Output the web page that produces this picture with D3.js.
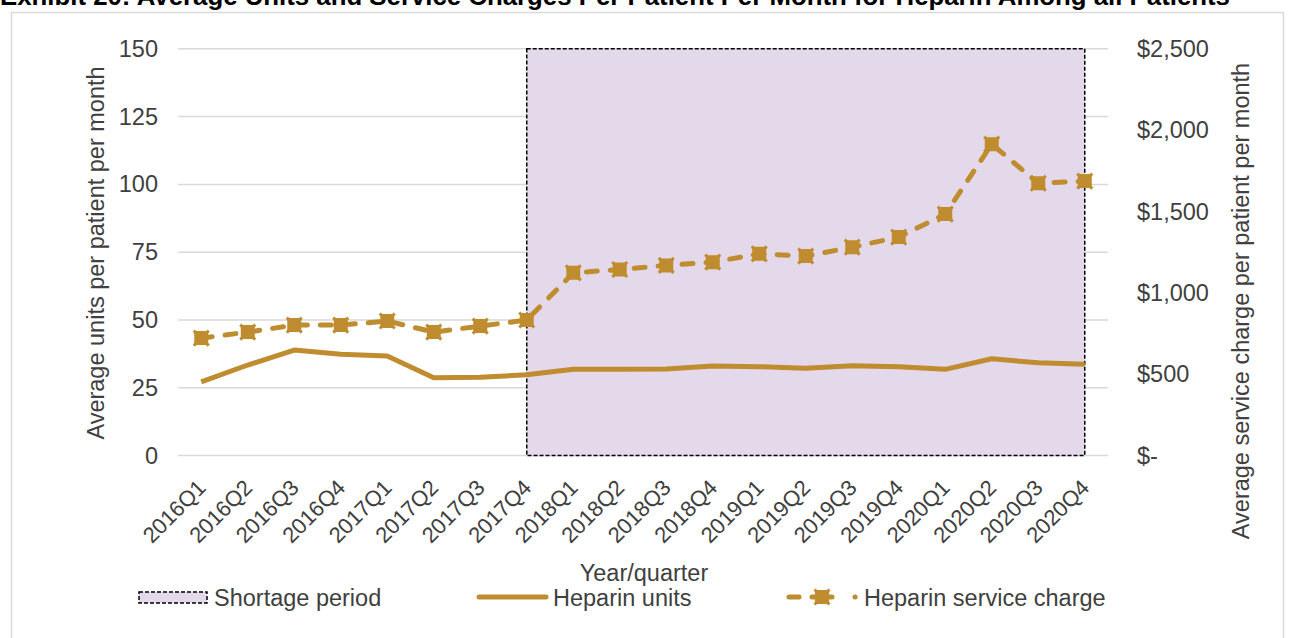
<!DOCTYPE html>
<html>
<head>
<meta charset="utf-8">
<script src="https://cdn.jsdelivr.net/npm/d3@7"></script>
<style>
  body { margin: 0; background: #fff; }
  text { font-family: "Liberation Sans", Arial, sans-serif; }
</style>
</head>
<body>
<div id="chart"></div>
<script>
// chart data
let quarters = ["2016Q1", "2016Q2", "2016Q3", "2016Q4", "2017Q1", "2017Q2", "2017Q3", "2017Q4",
  "2018Q1", "2018Q2", "2018Q3", "2018Q4", "2019Q1", "2019Q2", "2019Q3", "2019Q4",
  "2020Q1", "2020Q2", "2020Q3", "2020Q4"];
let heparinUnits = [27.2, 33.4, 38.9, 37.4, 36.7, 28.7, 28.9, 29.8, 31.8, 31.8,
  31.9, 33.0, 32.8, 32.2, 33.1, 32.8, 31.8, 35.7, 34.2, 33.7];
let serviceCharge = [722, 759, 802, 802, 827, 759, 796, 833, 1123, 1144,
  1169, 1189, 1240, 1226, 1281, 1343, 1484, 1914, 1674, 1687];
let shortage = ["2017Q4", "2020Q4"];
let leftTicks = [0, 25, 50, 75, 100, 125, 150];
let rightTicks = [0, 500, 1000, 1500, 2000, 2500];

let svgWidth = 1296;
let svgHeight = 638;
let gold = "#bf8c2f";
let textColor = "#404040";
let fontSize = "23.5px";

let svg = d3.select("#chart").append("svg")
  .attr("width", svgWidth)
  .attr("height", svgHeight);

// title, cut off at top in the original
svg.append("text")
  .attr("x", 0)
  .attr("y", 5)
  .attr("font-size", "25.8px")
  .attr("font-weight", "bold")
  .attr("fill", "#000")
  .text("Exhibit 20: Average Units and Service Charges Per Patient Per Month for Heparin Among all Patients");

// outer frame
svg.append("rect")
  .attr("x", 11.5).attr("y", 12.5)
  .attr("width", 1272).attr("height", 640)
  .attr("fill", "none")
  .attr("stroke", "#d9d9d9")
  .attr("stroke-width", 1.5);

let x = d3.scalePoint().domain(quarters).range([178, 1108]).padding(0.5);
let yLeft = d3.scaleLinear().domain([0, 150]).range([455.6, 48.8]);
let yRight = d3.scaleLinear().domain([0, 2500]).range([455.6, 48.8]);

// gridlines
svg.append("g")
  .selectAll("line")
  .data(leftTicks)
  .enter()
  .append("line")
  .attr("x1", 178).attr("x2", 1108)
  .attr("y1", d => yLeft(d)).attr("y2", d => yLeft(d))
  .attr("stroke", "#d9d9d9")
  .attr("stroke-width", 1.5);

// shortage period
svg.append("rect")
  .attr("x", x(shortage[0]))
  .attr("y", yLeft(150))
  .attr("width", x(shortage[1]) - x(shortage[0]))
  .attr("height", yLeft(0) - yLeft(150))
  .attr("fill", "#e4d9ea")
  .attr("stroke", "#000")
  .attr("stroke-width", 1.5)
  .attr("stroke-dasharray", "4,2");

// left axis
let leftAxis = d3.axisLeft(yLeft).tickValues(leftTicks).tickSize(0).tickPadding(0);
let gl = svg.append("g").attr("transform", "translate(158,0)").call(leftAxis);
gl.select(".domain").remove();
gl.selectAll("text").attr("font-size", fontSize).attr("fill", textColor)
  .attr("font-family", "Liberation Sans, Arial, sans-serif");

// right axis
let rightAxis = d3.axisRight(yRight).tickValues(rightTicks).tickSize(0).tickPadding(0)
  .tickFormat(d => d === 0 ? "$-" : "$" + d3.format(",")(d));
let gr = svg.append("g").attr("transform", "translate(1137,0)").call(rightAxis);
gr.select(".domain").remove();
gr.selectAll("text").attr("font-size", fontSize).attr("fill", textColor)
  .attr("font-family", "Liberation Sans, Arial, sans-serif");

// x axis labels
svg.append("g")
  .selectAll("text")
  .data(quarters)
  .enter()
  .append("text")
  .attr("transform", d => `translate(${x(d) + 6}, 489) rotate(-45)`)
  .attr("text-anchor", "end")
  .attr("font-size", "22px")
  .attr("fill", textColor)
  .text(d => d);

// axis titles
svg.append("text")
  .attr("transform", "translate(104, 253) rotate(-90)")
  .attr("text-anchor", "middle")
  .attr("font-size", fontSize)
  .attr("fill", textColor)
  .text("Average units per patient per month");

svg.append("text")
  .attr("transform", "translate(1249, 301) rotate(-90)")
  .attr("text-anchor", "middle")
  .attr("font-size", fontSize)
  .attr("fill", textColor)
  .text("Average service charge per patient per month");

svg.append("text")
  .attr("x", 644).attr("y", 581)
  .attr("text-anchor", "middle")
  .attr("font-size", fontSize)
  .attr("fill", textColor)
  .text("Year/quarter");

// lines
let unitsLine = d3.line()
  .x((d, i) => x(quarters[i]))
  .y(d => yLeft(d));

svg.append("path")
  .datum(heparinUnits)
  .attr("d", unitsLine)
  .attr("fill", "none")
  .attr("stroke", gold)
  .attr("stroke-width", 5)
  .attr("stroke-linejoin", "round");

let chargeLine = d3.line()
  .x((d, i) => x(quarters[i]))
  .y(d => yRight(d));

svg.append("path")
  .datum(serviceCharge)
  .attr("d", chargeLine)
  .attr("fill", "none")
  .attr("stroke", gold)
  .attr("stroke-width", 5)
  .attr("stroke-linecap", "round")
  .attr("stroke-dasharray", "11,13");

function marker(g, cx, cy) {
  g.append("rect")
    .attr("x", cx - 7).attr("y", cy - 7)
    .attr("width", 14).attr("height", 14)
    .attr("rx", 1.5)
    .attr("fill", gold);
  g.append("path")
    .attr("d", `M${cx - 7.5},${cy - 7.5}L${cx + 7.5},${cy + 7.5}M${cx + 7.5},${cy - 7.5}L${cx - 7.5},${cy + 7.5}`)
    .attr("stroke", gold)
    .attr("stroke-width", 3);
}

let markers = svg.append("g");
serviceCharge.forEach((d, i) => marker(markers, x(quarters[i]), yRight(d)));

// legend
let lg = svg.append("g");
lg.append("rect")
  .attr("x", 139).attr("y", 592)
  .attr("width", 68).attr("height", 11)
  .attr("fill", "#e4d9ea")
  .attr("stroke", "#000")
  .attr("stroke-width", 1.5)
  .attr("stroke-dasharray", "4,2");
lg.append("text").attr("x", 214).attr("y", 606)
  .attr("font-size", fontSize).attr("fill", textColor).text("Shortage period");

lg.append("line")
  .attr("x1", 479).attr("x2", 546).attr("y1", 597).attr("y2", 597)
  .attr("stroke", gold).attr("stroke-width", 5).attr("stroke-linecap", "round");
lg.append("text").attr("x", 553).attr("y", 606)
  .attr("font-size", fontSize).attr("fill", textColor).text("Heparin units");

lg.append("line")
  .attr("x1", 789).attr("x2", 857).attr("y1", 597).attr("y2", 597)
  .attr("stroke", gold).attr("stroke-width", 5).attr("stroke-linecap", "round")
  .attr("stroke-dasharray", "10,13,20,23,0.1,50");
marker(lg, 822, 597);
lg.append("text").attr("x", 864).attr("y", 606)
  .attr("font-size", fontSize).attr("fill", textColor).text("Heparin service charge");
</script>
</body>
</html>
